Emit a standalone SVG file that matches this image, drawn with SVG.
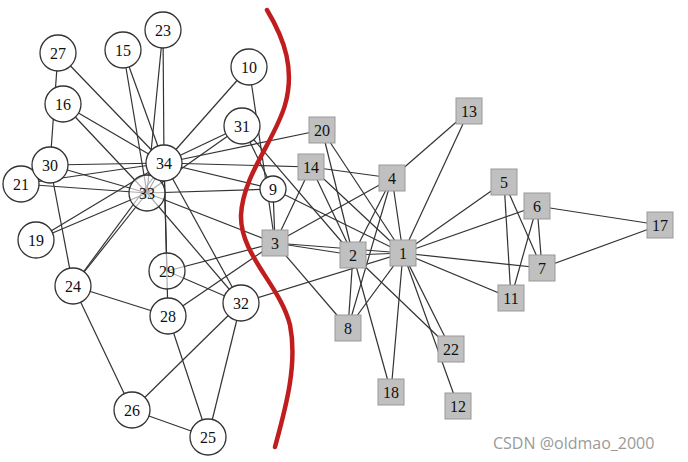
<svg xmlns="http://www.w3.org/2000/svg" width="688" height="462" viewBox="0 0 688 462">
<style>
.e line{stroke:#333;stroke-width:1.2}
.c circle{fill:#fff;stroke:#333;stroke-width:1.3}
.s rect{fill:#c0c0c0;stroke:#999;stroke-width:1}
text.l{font-family:"Liberation Serif","DejaVu Serif",serif;font-size:16px;fill:#111;text-anchor:middle;dominant-baseline:central}
.cut{fill:none;stroke:#c01e1e;stroke-width:4.5;stroke-linecap:round}
.wm{font-family:"Open Sans","Noto Sans",sans-serif;font-size:16px;fill:#9a9a9a}
</style>
<rect width="688" height="462" fill="#fff"/>
<g id="edges" class="e">
<line x1="403" y1="253" x2="353" y2="255"/>
<line x1="403" y1="253" x2="275" y2="243"/>
<line x1="403" y1="253" x2="392" y2="178"/>
<line x1="403" y1="253" x2="504" y2="182"/>
<line x1="403" y1="253" x2="537" y2="206"/>
<line x1="403" y1="253" x2="542" y2="268"/>
<line x1="403" y1="253" x2="348" y2="328"/>
<line x1="403" y1="253" x2="273" y2="189"/>
<line x1="403" y1="253" x2="511" y2="298"/>
<line x1="403" y1="253" x2="458" y2="406"/>
<line x1="403" y1="253" x2="469" y2="111"/>
<line x1="403" y1="253" x2="311" y2="167"/>
<line x1="403" y1="253" x2="391" y2="392"/>
<line x1="403" y1="253" x2="322" y2="130"/>
<line x1="403" y1="253" x2="451" y2="349"/>
<line x1="403" y1="253" x2="241" y2="303"/>
<line x1="353" y1="255" x2="275" y2="243"/>
<line x1="353" y1="255" x2="392" y2="178"/>
<line x1="353" y1="255" x2="348" y2="328"/>
<line x1="353" y1="255" x2="311" y2="167"/>
<line x1="353" y1="255" x2="391" y2="392"/>
<line x1="353" y1="255" x2="322" y2="130"/>
<line x1="353" y1="255" x2="451" y2="349"/>
<line x1="353" y1="255" x2="242" y2="126"/>
<line x1="275" y1="243" x2="392" y2="178"/>
<line x1="275" y1="243" x2="348" y2="328"/>
<line x1="275" y1="243" x2="273" y2="189"/>
<line x1="275" y1="243" x2="249" y2="67"/>
<line x1="275" y1="243" x2="311" y2="167"/>
<line x1="275" y1="243" x2="168" y2="316"/>
<line x1="275" y1="243" x2="167" y2="271"/>
<line x1="275" y1="243" x2="147" y2="193"/>
<line x1="392" y1="178" x2="348" y2="328"/>
<line x1="392" y1="178" x2="469" y2="111"/>
<line x1="392" y1="178" x2="311" y2="167"/>
<line x1="504" y1="182" x2="542" y2="268"/>
<line x1="504" y1="182" x2="511" y2="298"/>
<line x1="537" y1="206" x2="542" y2="268"/>
<line x1="537" y1="206" x2="511" y2="298"/>
<line x1="537" y1="206" x2="660" y2="225"/>
<line x1="542" y1="268" x2="660" y2="225"/>
<line x1="273" y1="189" x2="242" y2="126"/>
<line x1="273" y1="189" x2="147" y2="193"/>
<line x1="273" y1="189" x2="164" y2="163"/>
<line x1="249" y1="67" x2="164" y2="163"/>
<line x1="311" y1="167" x2="164" y2="163"/>
<line x1="123" y1="50" x2="147" y2="193"/>
<line x1="123" y1="50" x2="164" y2="163"/>
<line x1="63" y1="104" x2="147" y2="193"/>
<line x1="63" y1="104" x2="164" y2="163"/>
<line x1="36" y1="240" x2="147" y2="193"/>
<line x1="36" y1="240" x2="164" y2="163"/>
<line x1="322" y1="130" x2="164" y2="163"/>
<line x1="21" y1="184" x2="147" y2="193"/>
<line x1="21" y1="184" x2="164" y2="163"/>
<line x1="163" y1="30" x2="147" y2="193"/>
<line x1="163" y1="30" x2="164" y2="163"/>
<line x1="73" y1="286" x2="132" y2="410"/>
<line x1="73" y1="286" x2="168" y2="316"/>
<line x1="73" y1="286" x2="50" y2="165"/>
<line x1="73" y1="286" x2="147" y2="193"/>
<line x1="73" y1="286" x2="164" y2="163"/>
<line x1="208" y1="437" x2="132" y2="410"/>
<line x1="208" y1="437" x2="168" y2="316"/>
<line x1="208" y1="437" x2="241" y2="303"/>
<line x1="132" y1="410" x2="241" y2="303"/>
<line x1="58" y1="53" x2="50" y2="165"/>
<line x1="58" y1="53" x2="164" y2="163"/>
<line x1="168" y1="316" x2="164" y2="163"/>
<line x1="167" y1="271" x2="241" y2="303"/>
<line x1="167" y1="271" x2="164" y2="163"/>
<line x1="50" y1="165" x2="147" y2="193"/>
<line x1="50" y1="165" x2="164" y2="163"/>
<line x1="242" y1="126" x2="147" y2="193"/>
<line x1="242" y1="126" x2="164" y2="163"/>
<line x1="241" y1="303" x2="147" y2="193"/>
<line x1="241" y1="303" x2="164" y2="163"/>
<line x1="147" y1="193" x2="164" y2="163"/>
</g>
<path class="cut" d="M267,10 C285,40 295,70 285,105 C275,140 243,175 241,215 C240,255 280,285 290,325 C298,365 285,410 275,447"/>
<g id="n1" class="s"><rect x="390" y="240" width="26" height="26"/><text class="l" x="403" y="253">1</text></g>
<g id="n2" class="s"><rect x="340" y="242" width="26" height="26"/><text class="l" x="353" y="255">2</text></g>
<g id="n3" class="s"><rect x="262" y="230" width="26" height="26"/><text class="l" x="275" y="243">3</text></g>
<g id="n4" class="s"><rect x="379" y="165" width="26" height="26"/><text class="l" x="392" y="178">4</text></g>
<g id="n5" class="s"><rect x="491" y="169" width="26" height="26"/><text class="l" x="504" y="182">5</text></g>
<g id="n6" class="s"><rect x="524" y="193" width="26" height="26"/><text class="l" x="537" y="206">6</text></g>
<g id="n7" class="s"><rect x="529" y="255" width="26" height="26"/><text class="l" x="542" y="268">7</text></g>
<g id="n8" class="s"><rect x="335" y="315" width="26" height="26"/><text class="l" x="348" y="328">8</text></g>
<g id="n11" class="s"><rect x="498" y="285" width="26" height="26"/><text class="l" x="511" y="298">11</text></g>
<g id="n12" class="s"><rect x="445" y="393" width="26" height="26"/><text class="l" x="458" y="406">12</text></g>
<g id="n13" class="s"><rect x="456" y="98" width="26" height="26"/><text class="l" x="469" y="111">13</text></g>
<g id="n14" class="s"><rect x="298" y="154" width="26" height="26"/><text class="l" x="311" y="167">14</text></g>
<g id="n17" class="s"><rect x="647" y="212" width="26" height="26"/><text class="l" x="660" y="225">17</text></g>
<g id="n18" class="s"><rect x="378" y="379" width="26" height="26"/><text class="l" x="391" y="392">18</text></g>
<g id="n20" class="s"><rect x="309" y="117" width="26" height="26"/><text class="l" x="322" y="130">20</text></g>
<g id="n22" class="s"><rect x="438" y="336" width="26" height="26"/><text class="l" x="451" y="349">22</text></g>
<g id="n9" class="c"><circle cx="273" cy="189" r="13"/><text class="l" x="273" y="189">9</text></g>
<g id="n10" class="c"><circle cx="249" cy="67" r="18"/><text class="l" x="249" y="67">10</text></g>
<g id="n15" class="c"><circle cx="123" cy="50" r="18"/><text class="l" x="123" y="50">15</text></g>
<g id="n16" class="c"><circle cx="63" cy="104" r="18"/><text class="l" x="63" y="104">16</text></g>
<g id="n19" class="c"><circle cx="36" cy="240" r="18"/><text class="l" x="36" y="240">19</text></g>
<g id="n21" class="c"><circle cx="21" cy="184" r="18"/><text class="l" x="21" y="184">21</text></g>
<g id="n23" class="c"><circle cx="163" cy="30" r="18"/><text class="l" x="163" y="30">23</text></g>
<g id="n24" class="c"><circle cx="73" cy="286" r="18"/><text class="l" x="73" y="286">24</text></g>
<g id="n25" class="c"><circle cx="208" cy="437" r="18"/><text class="l" x="208" y="437">25</text></g>
<g id="n26" class="c"><circle cx="132" cy="410" r="18"/><text class="l" x="132" y="410">26</text></g>
<g id="n27" class="c"><circle cx="58" cy="53" r="18"/><text class="l" x="58" y="53">27</text></g>
<g id="n28" class="c"><circle cx="168" cy="316" r="18"/><text class="l" x="168" y="316">28</text></g>
<g id="n29" class="c"><circle cx="167" cy="271" r="18" fill-opacity="0.6"/><text class="l" x="167" y="271">29</text></g>
<g id="n30" class="c"><circle cx="50" cy="165" r="18"/><text class="l" x="50" y="165">30</text></g>
<g id="n31" class="c"><circle cx="242" cy="126" r="18"/><text class="l" x="242" y="126">31</text></g>
<g id="n32" class="c"><circle cx="241" cy="303" r="18"/><text class="l" x="241" y="303">32</text></g>
<g id="n33" class="c"><circle cx="147" cy="193" r="18" fill-opacity="0.6"/><text class="l" x="147" y="193">33</text></g>
<g id="n34" class="c"><circle cx="164" cy="163" r="18"/><text class="l" x="164" y="163">34</text></g>
<text class="wm" x="493" y="449">CSDN @oldmao_2000</text>
</svg>
